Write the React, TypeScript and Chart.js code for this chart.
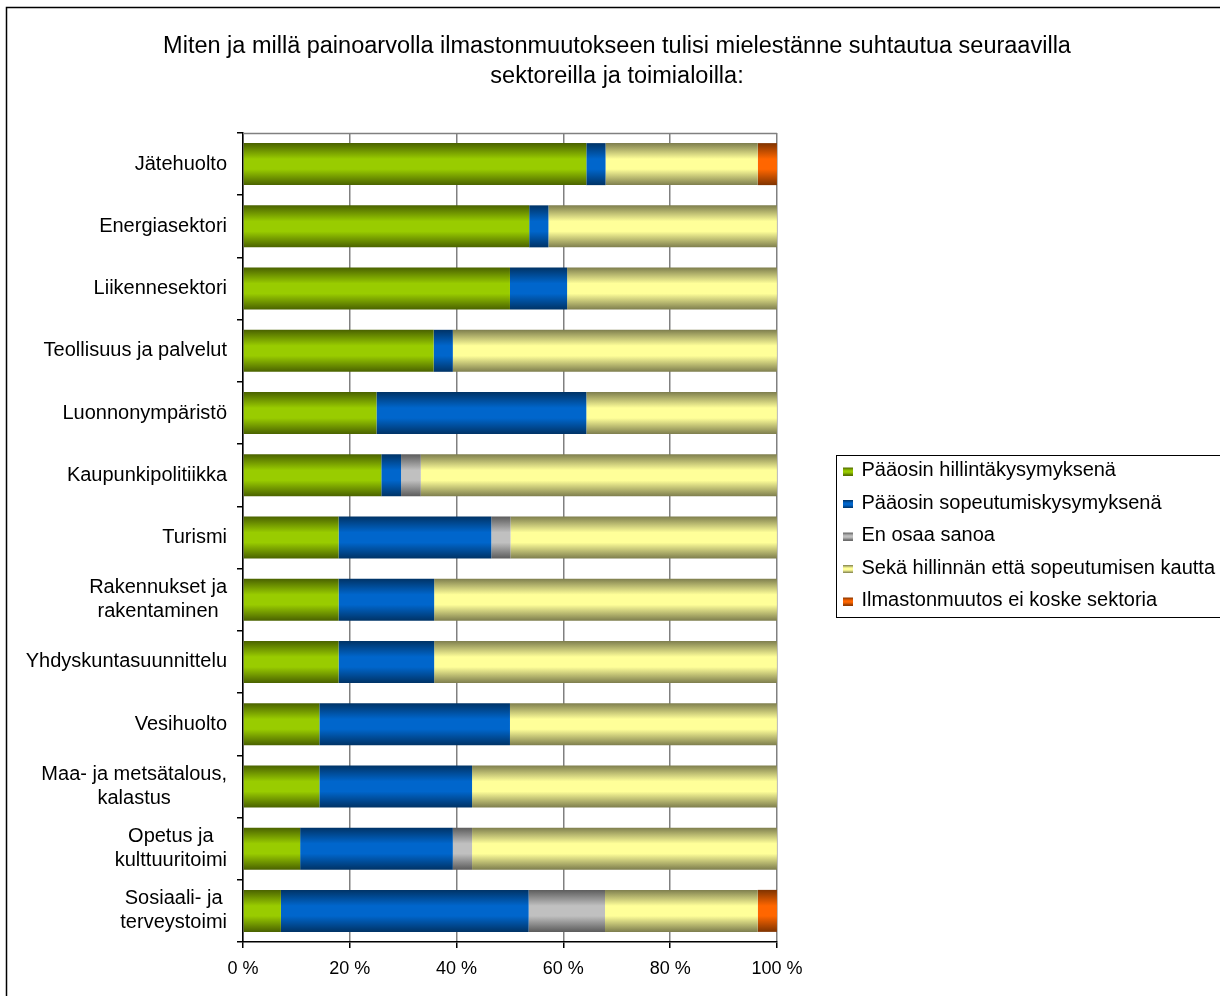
import React, { useEffect, useRef } from "react";
import { Chart, registerables } from "chart.js";

Chart.register(...registerables);

const titleLines = [
  "Miten ja millä painoarvolla ilmastonmuutokseen tulisi mielestänne suhtautua seuraavilla",
  "sektoreilla ja toimialoilla:",
];

const categories: (string | string[])[] = [
  "Jätehuolto",
  "Energiasektori",
  "Liikennesektori",
  "Teollisuus ja palvelut",
  "Luonnonympäristö",
  "Kaupunkipolitiikka",
  "Turismi",
  ["Rakennukset ja", "rakentaminen"],
  "Yhdyskuntasuunnittelu",
  "Vesihuolto",
  ["Maa- ja metsätalous,", "kalastus"],
  ["Opetus ja", "kulttuuritoimi"],
  ["Sosiaali- ja", "terveystoimi"],
];

const seriesNames = [
  "Pääosin hillintäkysymyksenä",
  "Pääosin sopeutumiskysymyksenä",
  "En osaa sanoa",
  "Sekä hillinnän että sopeutumisen kautta",
  "Ilmastonmuutos ei koske sektoria",
];

const mitigation = [64.3, 53.6, 50.0, 35.7, 25.0, 25.9, 17.9, 17.9, 17.9, 14.3, 14.3, 10.7, 7.1];
const adaptation = [3.6, 3.6, 10.7, 3.6, 39.3, 3.7, 28.6, 17.9, 17.9, 35.7, 28.6, 28.6, 46.4];
const dontKnow = [0, 0, 0, 0, 0, 3.7, 3.6, 0, 0, 0, 0, 3.6, 14.3];
const both = [28.5, 42.8, 39.3, 60.7, 35.7, 66.7, 49.9, 64.2, 64.2, 50.0, 57.1, 57.1, 28.6];
const notConcerned = [3.6, 0, 0, 0, 0, 0, 0, 0, 0, 0, 0, 0, 3.6];

const xTickValues = [0, 20, 40, 60, 80, 100];

const seriesValues = [mitigation, adaptation, dontKnow, both, notConcerned];
const seriesDark = ["#4a6200", "#003366", "#5c5c5c", "#7e7e4e", "#7f3300"];
const seriesLight = ["#99cc00", "#0066cc", "#c0c0c0", "#ffff99", "#ff6600"];

const FONT = "'Liberation Sans', Arial, sans-serif";
const BAR_FRACTION = 0.675;
const PAD_LEFT = 14;
const PAD_RIGHT = 50;
const PLOT_LEFT = 243;
const X_AXIS_HEIGHT = 54;
const LEGEND_PAD = 12.5;
const LEGEND_SHIFT = 55;
const TITLE_CENTER = 617;

function addStops(g: CanvasGradient, dark: string, light: string) {
  g.addColorStop(0, dark);
  g.addColorStop(0.38, light);
  g.addColorStop(0.62, light);
  g.addColorStop(1, dark);
}

function barGradient(dark: string, light: string) {
  return (c: any) => {
    const chart = c.chart;
    const ys = chart.scales && chart.scales.y;
    if (!ys || c.dataIndex === undefined) return light;
    const center = ys.getPixelForValue(c.dataIndex);
    const half = ((ys.height || 0) / categories.length) * BAR_FRACTION / 2;
    if (!Number.isFinite(center) || !Number.isFinite(half) || half <= 0) return light;
    const g = chart.ctx.createLinearGradient(0, center - half, 0, center + half);
    addStops(g, dark, light);
    return g;
  };
}

function makeMarker(dark: string, light: string): HTMLCanvasElement {
  const cv = document.createElement("canvas");
  cv.width = 10;
  cv.height = 10;
  const ctx = cv.getContext("2d")!;
  const g = ctx.createLinearGradient(0, 2, 0, 10);
  addStops(g, dark, light);
  ctx.fillStyle = g;
  ctx.fillRect(0, 2, 10, 8);
  return cv;
}

const decorPlugin = {
  id: "decor",
  afterLayout(chart: any) {
    const lg = chart.legend;
    if (lg) {
      lg.left += LEGEND_SHIFT;
      lg.right += LEGEND_SHIFT;
      lg.top -= 2;
      lg.bottom -= 2;
    }
    const tb = chart.titleBlock;
    if (tb) {
      const shift = TITLE_CENTER - (tb.left + tb.right) / 2;
      tb.left += shift;
      tb.right += shift;
    }
  },
  beforeDraw(chart: any) {
    const ctx = chart.ctx;
    ctx.save();
    ctx.fillStyle = "#ffffff";
    ctx.fillRect(0, 0, chart.width, chart.height);
    ctx.strokeStyle = "#000000";
    ctx.lineWidth = 1.5;
    ctx.strokeRect(6.5, 7.5, chart.width + 20, chart.height + 20);
    ctx.restore();
    // centre the lines of multi-line category labels on each other
    const ys = chart.scales.y;
    const items = ys.getLabelItems(chart.chartArea);
    items.forEach((it: any) => {
      if (Array.isArray(it.label) && it.options.textAlign === "right") {
        ctx.save();
        ctx.font = it.font.string;
        const w = Math.max(...it.label.map((l: string) => ctx.measureText(l).width));
        ctx.restore();
        it.options.textAlign = "center";
        it.options.translation = [it.options.translation[0] - w / 2, it.options.translation[1]];
      }
    });
  },
  afterDraw(chart: any) {
    const ctx = chart.ctx;
    const area = chart.chartArea;
    ctx.save();
    ctx.strokeStyle = "#808080";
    ctx.lineWidth = 1.5;
    ctx.beginPath();
    ctx.moveTo(area.left, area.top + 0.5);
    ctx.lineTo(area.right, area.top + 0.5);
    ctx.stroke();
    const lg = chart.legend;
    if (lg && lg.columnSizes && lg.columnSizes.length) {
      const colH = lg.columnSizes[0].height;
      const itemH = 20;
      const n = seriesNames.length;
      const top0 = (lg.top + LEGEND_PAD + lg.bottom - colH) / 2;
      const boxTop = Math.round(top0 - 6) + 0.5;
      const boxBottom = Math.round(top0 + (n - 1) * (itemH + LEGEND_PAD) + itemH + 6) + 0.5;
      const boxLeft = Math.round(lg.left + 4) + 0.5;
      ctx.strokeStyle = "#000000";
      ctx.lineWidth = 1;
      ctx.strokeRect(boxLeft, boxTop, chart.width + 20 - boxLeft, boxBottom - boxTop);
    }
    ctx.restore();
  },
};

export default function App() {
  const canvasRef = useRef<HTMLCanvasElement | null>(null);

  useEffect(() => {
    if (!canvasRef.current) return;
    Chart.defaults.font.family = FONT;
    const markers = seriesNames.map((_, i) => makeMarker(seriesDark[i], seriesLight[i]));

    const chart = new Chart(canvasRef.current, {
      type: "bar",
      data: {
        labels: categories,
        datasets: seriesNames.map((name, i) => ({
          label: name,
          data: seriesValues[i],
          backgroundColor: barGradient(seriesDark[i], seriesLight[i]),
          borderWidth: 0,
          categoryPercentage: BAR_FRACTION,
          barPercentage: 1,
        })),
      },
      options: {
        indexAxis: "y",
        responsive: false,
        maintainAspectRatio: false,
        animation: false,
        devicePixelRatio: 1,
        events: [],
        layout: { padding: { left: PAD_LEFT, right: PAD_RIGHT, top: 0, bottom: 0 } },
        scales: {
          x: {
            stacked: true,
            min: 0,
            max: 100,
            afterBuildTicks: (scale: any) => {
              scale.ticks = xTickValues.map((v) => ({ value: v }));
            },
            afterFit: (scale: any) => {
              scale.height = X_AXIS_HEIGHT;
            },
            ticks: {
              callback: (v: any) => `${v} %`,
              font: { size: 18, family: FONT },
              color: "#000000",
              padding: 10,
              maxRotation: 0,
            },
            grid: {
              color: "#808080",
              lineWidth: 1.5,
              tickColor: "#000000",
              tickLength: 6,
              drawTicks: true,
            },
            border: { color: "#000000", width: 1.5 },
          },
          y: {
            stacked: true,
            afterFit: (scale: any) => {
              scale.width = PLOT_LEFT - PAD_LEFT;
            },
            ticks: {
              font: { size: 20, family: FONT, lineHeight: 1.2 },
              color: "#000000",
              padding: 10,
              autoSkip: false,
            },
            grid: {
              drawOnChartArea: false,
              drawTicks: true,
              tickLength: 6,
              color: "#000000",
              lineWidth: 1.5,
            },
            border: { color: "#000000", width: 1.5 },
          },
        },
        plugins: {
          title: {
            display: true,
            text: titleLines,
            color: "#000000",
            font: { size: 23.5, family: FONT, weight: "normal", lineHeight: 30 / 23.5 },
            padding: { top: 32, bottom: 41 },
          },
          legend: {
            position: "right",
            fullSize: false,
            align: "center",
            maxWidth: 1000,
            labels: {
              usePointStyle: true,
              boxWidth: 7,
              boxHeight: 10,
              padding: LEGEND_PAD,
              color: "#000000",
              font: { size: 20, family: FONT },
              generateLabels: (ch: any) => {
                const base = (Chart.defaults.plugins.legend.labels as any).generateLabels(ch);
                return base.map((it: any, i: number) => ({
                  ...it,
                  pointStyle: markers[i],
                  fillStyle: "rgba(0,0,0,0)",
                  strokeStyle: "rgba(0,0,0,0)",
                  lineWidth: 0,
                }));
              },
            },
          },
          tooltip: { enabled: false },
        },
      },
      plugins: [decorPlugin],
    } as any);

    return () => chart.destroy();
  }, []);

  return (
    <div style={{ position: "absolute", left: 0, top: 0, width: 1220, height: 996, overflow: "hidden" }}>
      <canvas ref={canvasRef} width={1220} height={996} style={{ display: "block" }} />
    </div>
  );
}
